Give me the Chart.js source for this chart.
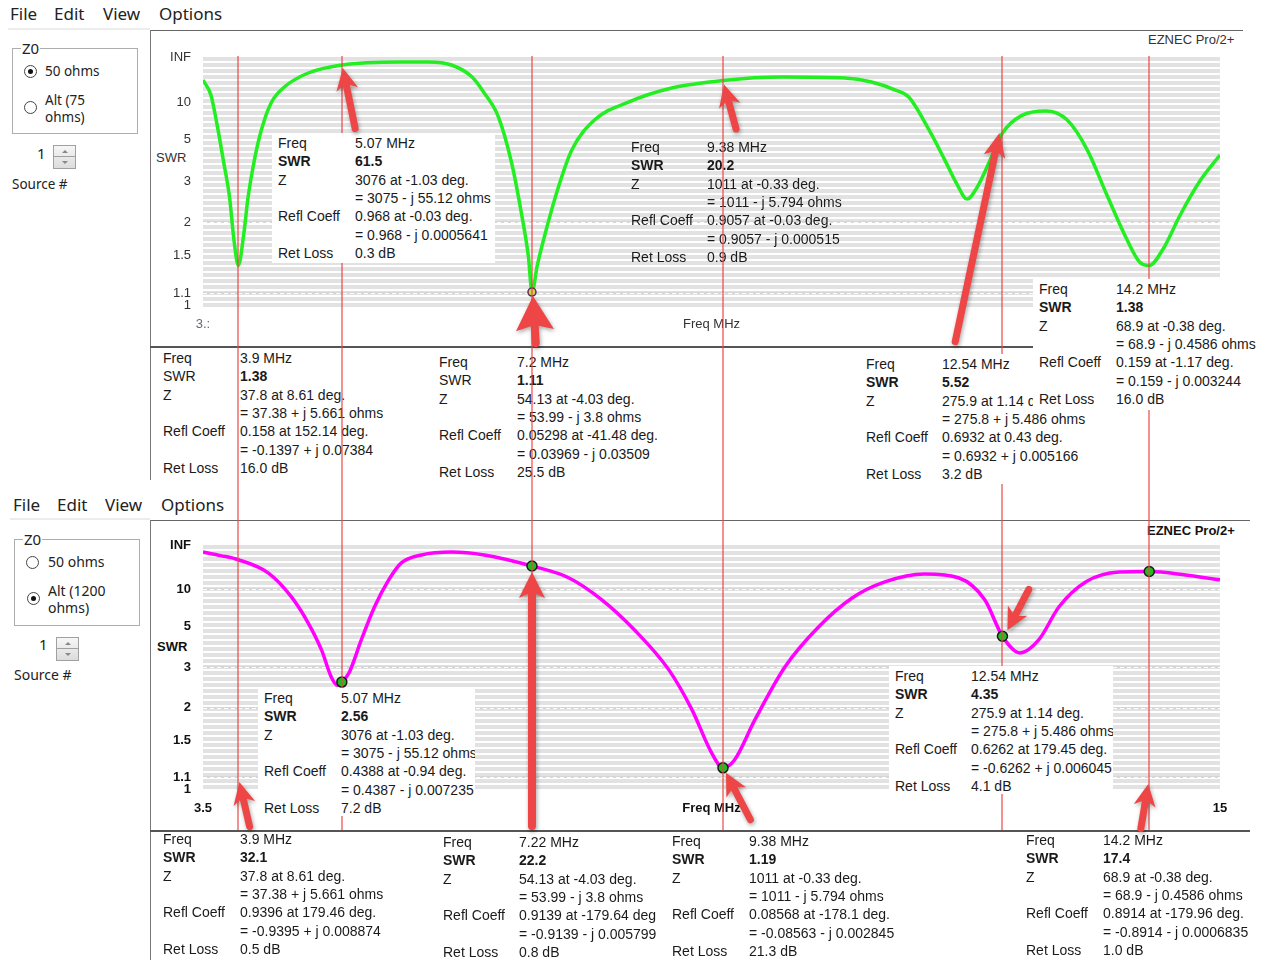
<!DOCTYPE html>
<html>
<head>
<meta charset="utf-8">
<title>EZNEC SWR sweep</title>
<script src="https://cdn.jsdelivr.net/npm/chart.js@4.4.1/dist/chart.umd.min.js"></script>
<style>
  body { margin:0; width:1263px; height:960px; position:relative; overflow:hidden; background:#fff;
         font-family:"Liberation Sans", Arial, sans-serif; color:#1a1a1a; }
  .a { position:absolute; white-space:nowrap; }
  .ui { font-family:"Noto Sans", sans-serif; color:#222; }
  .menu { font-size:17px; line-height:22px; }
  .grp { position:absolute; border:1px solid #adadad; }
  .grp .cap { position:absolute; left:8px; top:-11px; background:#fff; padding:0 1px; font-size:15px; line-height:20px; }
  .radio { position:absolute; width:11px; height:11px; border:1px solid #444; border-radius:50%; background:#fff; }
  .radio.on::after { content:""; position:absolute; left:3px; top:3px; width:5px; height:5px; border-radius:50%; background:#111; }
  .spin { position:absolute; width:21px; height:22px; border:1px solid #a0a0a0; background:linear-gradient(#f6f6f6,#dcdcdc); }
  .spin::after { content:""; position:absolute; left:0; right:0; top:10px; border-top:1px solid #a0a0a0; }
  .spin .up, .spin .dn { position:absolute; left:8px; width:0; height:0; border-left:3px solid transparent; border-right:3px solid transparent; }
  .spin .up { top:4px; border-bottom:3px solid #888; }
  .spin .dn { top:15px; border-top:3px solid #888; }
  .box { position:absolute; font-size:14px; line-height:18px; overflow:hidden; }
  .box.cover { background:#fff; }
  .box div { position:absolute; white-space:nowrap; }
  .b { font-weight:bold; }
  canvas.ov { position:absolute; left:0; top:0; pointer-events:none; }
</style>
</head>
<body>

<!-- top window chrome -->
<div class="a ui menu" style="left:10px;top:3px">File</div>
<div class="a ui menu" style="left:54px;top:3px">Edit</div>
<div class="a ui menu" style="left:103px;top:3px">View</div>
<div class="a ui menu" style="left:159px;top:3px">Options</div>
<div class="a" style="left:8px;top:28px;width:142px;height:2px;background:#ececec"></div>
<div class="a" style="left:150px;top:30px;width:1093px;height:1px;background:#666"></div>
<div class="a" style="left:150px;top:30px;width:1px;height:450px;background:#777"></div>
<div class="a" style="left:150px;top:346px;width:1093px;height:2px;background:#555"></div>

<div class="grp" style="left:12px;top:48px;width:124px;height:84px"><span class="cap ui">Z0</span></div>
<div class="radio on" style="left:24px;top:65px"></div>
<div class="a ui" style="left:45px;top:62px;font-size:13.5px;line-height:18px">50 ohms</div>
<div class="radio" style="left:24px;top:101px"></div>
<div class="a ui" style="left:45px;top:91px;font-size:13.5px;line-height:18px">Alt (75</div>
<div class="a ui" style="left:45px;top:108px;font-size:13.5px;line-height:18px">ohms)</div>
<div class="a ui" style="left:37px;top:143px;font-size:15px;line-height:20px">1</div>
<div class="spin" style="left:53px;top:145px"><span class="up"></span><span class="dn"></span></div>
<div class="a ui" style="left:12px;top:175px;font-size:13.5px;line-height:18px">Source #</div>
<div class="a" style="left:1148px;top:32px;font-size:13px;color:#333">EZNEC Pro/2+</div>
<div class="a" style="left:156px;top:150px;font-size:13px;color:#333">SWR</div>
<div class="a" style="left:151px;top:31px;z-index:1"><canvas id="topChart" width="1092" height="316"></canvas></div>

<!-- bottom window chrome -->
<div class="a ui menu" style="left:13px;top:494px">File</div>
<div class="a ui menu" style="left:57px;top:494px">Edit</div>
<div class="a ui menu" style="left:105px;top:494px">View</div>
<div class="a ui menu" style="left:161px;top:494px">Options</div>
<div class="a" style="left:10px;top:518px;width:140px;height:2px;background:#ececec"></div>
<div class="a" style="left:150px;top:520px;width:1100px;height:1px;background:#666"></div>
<div class="a" style="left:150px;top:520px;width:1px;height:440px;background:#777"></div>
<div class="a" style="left:150px;top:830px;width:1100px;height:2px;background:#555"></div>

<div class="grp" style="left:14px;top:539px;width:124px;height:85px"><span class="cap ui">Z0</span></div>
<div class="radio" style="left:26px;top:556px"></div>
<div class="a ui" style="left:48px;top:553px;font-size:14px;line-height:18px">50 ohms</div>
<div class="radio on" style="left:27px;top:592px"></div>
<div class="a ui" style="left:48px;top:582px;font-size:14px;line-height:18px">Alt (1200</div>
<div class="a ui" style="left:48px;top:599px;font-size:14px;line-height:18px">ohms)</div>
<div class="a ui" style="left:39px;top:634px;font-size:15px;line-height:20px">1</div>
<div class="spin" style="left:56px;top:637px"><span class="up"></span><span class="dn"></span></div>
<div class="a ui" style="left:14px;top:666px;font-size:14px;line-height:18px">Source #</div>
<div class="a b" style="left:1147px;top:523px;font-size:13px;color:#111">EZNEC Pro/2+</div>
<div class="a b" style="left:157px;top:639px;font-size:13px;color:#111">SWR</div>
<div class="a" style="left:151px;top:521px;z-index:1"><canvas id="botChart" width="1099" height="310"></canvas></div>

<canvas id="lineLayer" class="ov" width="1263" height="960" style="z-index:15"></canvas>
<canvas id="arrowLayer" class="ov" width="1263" height="960" style="z-index:30"></canvas>

<script>
// frequency sweep, MHz, and SWR
const topFreq = [3.5, 3.59, 3.67, 3.73, 3.8, 3.85, 3.9, 3.96, 4.01, 4.08, 4.16, 4.27, 4.42, 4.69, 5.07,
  5.74, 6.05, 6.31, 6.54, 6.68, 6.84, 6.99, 7.1, 7.18, 7.22, 7.28, 7.36, 7.52, 7.67, 7.93, 8.31, 8.8,
  9.38, 10.05, 10.76, 11.06, 11.33, 11.48, 11.71, 11.89, 12.03, 12.14, 12.25, 12.4, 12.54, 12.76,
  13.03, 13.27, 13.5, 13.72, 13.95, 14.09, 14.2, 14.35, 14.55, 14.78, 15.0];
const topSwr = [20.5, 12.0, 5.8, 3.8, 2.54, 1.71, 1.38, 1.79, 2.54, 3.8, 5.8, 9.8, 15.5, 30, 61.5,
  99, 99, 61, 24, 12.8, 7.3, 3.68, 2.18, 1.48, 1.11, 1.38, 1.76, 2.82, 4.33, 6.9, 10.0, 15.0,
  20.2, 23.8, 22.6, 18.8, 14.0, 11.4, 5.8, 3.8, 2.88, 2.49, 2.79, 3.8, 5.52, 7.5,
  8.2, 6.9, 4.33, 2.6, 1.71, 1.42, 1.38, 1.57, 2.14, 3.03, 4.06];
const topMarkFreq = [7.22];
const topMarkSwr = [1.11];

const botFreq = [3.5, 3.7, 3.9, 4.24, 4.5, 4.69, 4.84, 4.95, 5.02, 5.07, 5.15, 5.29, 5.44, 5.6, 5.74,
  5.97, 6.31, 6.68, 7.22, 7.64, 8.01, 8.38, 8.77, 9.03, 9.25, 9.38, 9.51, 9.74, 10.08, 10.46, 10.84,
  11.21, 11.66, 12.05, 12.34, 12.54, 12.74, 12.95, 13.18, 13.48, 13.86, 14.2, 14.61, 15.0];
const botSwr = [68, 45, 32.1, 16.4, 8.4, 5.25, 3.65, 2.7, 2.48, 2.56, 2.81, 4.14, 6.9, 13.0, 26,
  48, 68, 48, 22.2, 13.8, 7.9, 4.74, 2.9, 1.96, 1.35, 1.19, 1.27, 1.79, 3.0, 4.95, 8.2,
  12.2, 15.8, 13.8, 7.9, 4.35, 3.52, 4.14, 6.9, 12.2, 17.0, 17.4, 15.3, 13.0];
const botMarkFreq = [5.07, 7.22, 9.38, 12.54, 14.2];
const botMarkSwr = [2.56, 22.2, 1.19, 4.35, 17.4];

const cursorFreq = [3.9, 5.07, 7.22, 9.38, 12.54, 14.2];

const swrTickVals = [1, 1.1, 1.5, 2, 3, 5, 10, Infinity];
const swrTickText = ['1', '1.1', '1.5', '2', '3', '5', '10', 'INF'];

// readout boxes: [lx, vx, y0, width, height, covers cursor line, bold SWR label, rows]
const boxes = [
  [631, 707, 147, 219, 128, false, true, ['9.38 MHz', '20.2', '1011 at -0.33 deg.', '= 1011 - j 5.794 ohms', '0.9057 at -0.03 deg.', '= 0.9057 - j 0.000515', '0.9 dB']],
  [163, 240, 358, 260, 128, false, false, ['3.9 MHz', '1.38', '37.8 at 8.61 deg.', '= 37.38 + j 5.661 ohms', '0.158 at 152.14 deg.', '= -0.1397 + j 0.07384', '16.0 dB']],
  [439, 517, 362, 260, 128, false, false, ['7.2 MHz', '1.11', '54.13 at -4.03 deg.', '= 53.99 - j 3.8 ohms', '0.05298 at -41.48 deg.', '= 0.03969 - j 0.03509', '25.5 dB']],
  [278, 355, 143, 223, 130, true, true, ['5.07 MHz', '61.5', '3076 at -1.03 deg.', '= 3075 - j 55.12 ohms', '0.968 at -0.03 deg.', '= 0.968 - j 0.0005641', '0.3 dB']],
  [866, 942, 364, 230, 130, true, true, ['12.54 MHz', '5.52', '275.9 at 1.14 deg.', '= 275.8 + j 5.486 ohms', '0.6932 at 0.43 deg.', '= 0.6932 + j 0.005166', '3.2 dB']],
  [1039, 1116, 289, 224, 131, true, true, ['14.2 MHz', '1.38', '68.9 at -0.38 deg.', '= 68.9 - j 0.4586 ohms', '0.159 at -1.17 deg.', '= 0.159 - j 0.003244', '16.0 dB']],
  [264, 341, 698, 217, 128, true, true, ['5.07 MHz', '2.56', '3076 at -1.03 deg.', '= 3075 - j 55.12 ohms', '0.4388 at -0.94 deg.', '= 0.4387 - j 0.007235', '7.2 dB']],
  [895, 971, 676, 224, 128, true, true, ['12.54 MHz', '4.35', '275.9 at 1.14 deg.', '= 275.8 + j 5.486 ohms', '0.6262 at 179.45 deg.', '= -0.6262 + j 0.006045', '4.1 dB']],
  [163, 240, 839, 270, 128, false, true, ['3.9 MHz', '32.1', '37.8 at 8.61 deg.', '= 37.38 + j 5.661 ohms', '0.9396 at 179.46 deg.', '= -0.9395 + j 0.008874', '0.5 dB']],
  [443, 519, 842, 225, 128, false, true, ['7.22 MHz', '22.2', '54.13 at -4.03 deg.', '= 53.99 - j 3.8 ohms', '0.9139 at -179.64 deg', '= -0.9139 - j 0.005799', '0.8 dB']],
  [672, 749, 841, 240, 128, false, true, ['9.38 MHz', '1.19', '1011 at -0.33 deg.', '= 1011 - j 5.794 ohms', '0.08568 at -178.1 deg.', '= -0.08563 - j 0.002845', '21.3 dB']],
  [1026, 1103, 840, 237, 128, false, true, ['14.2 MHz', '17.4', '68.9 at -0.38 deg.', '= 68.9 - j 0.4586 ohms', '0.8914 at -179.96 deg.', '= -0.8914 - j 0.0006835', '1.0 dB']]
];
const rowLabels = ['Freq', 'SWR', 'Z', '', 'Refl Coeff', '', 'Ret Loss'];

const FONT = '"Liberation Sans", Arial, sans-serif';

function rho(s) {
  return s === Infinity ? 1 : (s - 1) / (s + 1);
}

// grey banded background of the EZNEC plot
const stripes = {
  id: 'stripes',
  beforeDatasetsDraw(chart, args, opts) {
    const { ctx, chartArea: { left, top, right, bottom } } = chart;
    ctx.save();
    ctx.fillStyle = '#e2e2e2';
    for (let y = top; y < bottom + 2; y += 6) ctx.fillRect(left, y, right - left, 4);
    (opts.dashed || []).forEach(s => {
      const y = Math.round(chart.scales.y.getPixelForValue(rho(s)));
      ctx.fillStyle = '#d6d6d6';
      ctx.fillRect(left, y - 1, right - left, 2);
      ctx.strokeStyle = '#fff';
      ctx.lineWidth = 1;
      ctx.setLineDash([4, 3]);
      ctx.beginPath();
      ctx.moveTo(left, y + 0.5);
      ctx.lineTo(right, y + 0.5);
      ctx.stroke();
    });
    ctx.restore();
  }
};

function buildChart(id, c) {
  const font = { family: FONT, size: 13, weight: c.weight };
  return new Chart(document.getElementById(id), {
    type: 'line',
    data: {
      datasets: [
        {
          data: c.freq.map((f, i) => ({ x: f, y: rho(c.swr[i]) })),
          borderColor: c.color, borderWidth: 3.5, pointRadius: 0,
          cubicInterpolationMode: 'monotone', order: 2
        },
        {
          data: c.markFreq.map((f, i) => ({ x: f, y: rho(c.markSwr[i]) })),
          showLine: false, pointRadius: c.markR, pointBackgroundColor: c.markFill,
          pointBorderColor: c.markBorder, pointBorderWidth: 1.5, order: 1
        }
      ]
    },
    options: {
      responsive: false,
      animation: false,
      events: [],
      layout: { padding: { top: c.padTop, right: c.padRight, left: 0, bottom: 0 } },
      plugins: { legend: { display: false }, tooltip: { enabled: false }, stripes: { dashed: c.dashed } },
      scales: {
        x: {
          type: 'linear', min: 3.5, max: 15,
          grid: { display: false, drawTicks: false }, border: { display: false },
          afterBuildTicks: s => { s.ticks = c.xTicks.map(v => ({ value: v })); },
          afterFit: s => { s.height = 42; },
          ticks: {
            autoSkip: false, maxRotation: 0, padding: 12, color: c.xTickColor, font: font,
            callback: v => c.xText[c.xTicks.indexOf(v)]
          },
          title: { display: true, text: 'Freq MHz', color: c.tickColor, font: font, padding: { top: 0, bottom: 15 } }
        },
        y: {
          min: 0, max: 1,
          grid: { display: false, drawTicks: false }, border: { display: false },
          afterBuildTicks: s => { s.ticks = swrTickVals.map(v => ({ value: rho(v) })); },
          afterFit: s => { s.width = 52; },
          ticks: { autoSkip: false, padding: 12, color: c.tickColor, font: font, callback: (v, i) => swrTickText[i] }
        }
      }
    },
    plugins: [stripes]
  });
}

const topChart = buildChart('topChart', {
  freq: topFreq, swr: topSwr, markFreq: topMarkFreq, markSwr: topMarkSwr,
  color: '#22ee22', markR: 4, markFill: '#c8d84a', markBorder: '#5a2a5a',
  padTop: 26, padRight: 23, weight: 'normal', tickColor: '#333', xTickColor: '#667',
  xTicks: [3.5], xText: ['3.:'], dashed: [2, 1.1]
});
const botChart = buildChart('botChart', {
  freq: botFreq, swr: botSwr, markFreq: botMarkFreq, markSwr: botMarkSwr,
  color: '#ff00ff', markR: 5, markFill: '#22bb22', markBorder: '#1a1a1a',
  padTop: 24, padRight: 30, weight: 'bold', tickColor: '#111', xTickColor: '#111',
  xTicks: [3.5, 15], xText: ['3.5', '15'], dashed: [10, 3, 2, 1.1]
});

const topOff = { x: 151, y: 31 };
const botOff = { x: 151, y: 521 };
const X = (ch, off, f) => off.x + ch.scales.x.getPixelForValue(f);
const Y = (ch, off, s) => off.y + ch.scales.y.getPixelForValue(rho(s));

// readout boxes
boxes.forEach(([lx, vx, y0, w, h, cover, boldLabel, vals]) => {
  const d = document.createElement('div');
  d.className = 'box' + (cover ? ' cover' : '');
  d.style.left = (lx - 6) + 'px';
  d.style.top = (y0 - 10) + 'px';
  d.style.width = w + 'px';
  d.style.height = h + 'px';
  d.style.zIndex = cover ? 20 : 10;
  rowLabels.forEach((lab, i) => {
    const top = (1 + i * 18.3) + 'px';
    if (lab) {
      const l = document.createElement('div');
      l.textContent = lab;
      l.style.left = '6px';
      l.style.top = top;
      if (i === 1 && boldLabel) l.className = 'b';
      d.appendChild(l);
    }
    const v = document.createElement('div');
    v.textContent = vals[i];
    v.style.left = (vx - lx + 6) + 'px';
    v.style.top = top;
    if (i === 1) v.className = 'b';
    d.appendChild(v);
  });
  document.body.appendChild(d);
});

// cursor lines through both windows
const lctx = document.getElementById('lineLayer').getContext('2d');
lctx.strokeStyle = 'rgba(236,70,70,0.8)';
lctx.lineWidth = 1.5;
cursorFreq.forEach(f => {
  const x = Math.round(X(topChart, topOff, f));
  lctx.beginPath();
  lctx.moveTo(x, topOff.y + topChart.chartArea.top - 1);
  lctx.lineTo(x, 830);
  lctx.stroke();
});

// red call-out arrows
function arrow(ctx, tip, tail, w, hl, hw) {
  const a = Math.atan2(tip[1] - tail[1], tip[0] - tail[0]);
  const len = Math.hypot(tip[0] - tail[0], tip[1] - tail[1]);
  ctx.save();
  ctx.translate(tip[0], tip[1]);
  ctx.rotate(a);
  ctx.beginPath();
  ctx.moveTo(0, 0);
  ctx.lineTo(-hl, -hw / 2);
  ctx.lineTo(-hl + 4, -w / 2);
  ctx.lineTo(-len + w / 2, -w / 2);
  ctx.arc(-len + w / 2, 0, w / 2, -Math.PI / 2, Math.PI / 2, true);
  ctx.lineTo(-hl + 4, w / 2);
  ctx.lineTo(-hl, hw / 2);
  ctx.closePath();
  ctx.fill();
  ctx.restore();
}
const actx = document.getElementById('arrowLayer').getContext('2d');
actx.fillStyle = '#ee4646';
actx.shadowColor = 'rgba(0,0,0,0.35)';
actx.shadowBlur = 4;
actx.shadowOffsetX = 1;
actx.shadowOffsetY = 2;
const botBottom = botOff.y + botChart.chartArea.bottom;
const arrows = [
  [[X(topChart, topOff, 5.07) + 1, Y(topChart, topOff, 61.5) + 3], [13, 64], 7, 22, 22],
  [[X(topChart, topOff, 7.22) + 1, Y(topChart, topOff, 1.11) + 4], [3, 51], 8, 34, 38],
  [[X(topChart, topOff, 9.38) + 1, Y(topChart, topOff, 20.2) + 4], [13, 48], 7, 22, 22],
  [[X(topChart, topOff, 12.54) - 3, Y(topChart, topOff, 5.52)], [-45, 212], 7, 24, 22],
  [[X(botChart, botOff, 3.9) + 1, botBottom - 7], [11, 48], 7, 22, 22],
  [[X(botChart, botOff, 7.22), Y(botChart, botOff, 22.2) + 6], [0, 258], 8, 26, 26],
  [[X(botChart, botOff, 9.38) + 3, Y(botChart, botOff, 1.19) + 5], [26, 50], 7, 22, 22],
  [[X(botChart, botOff, 12.54) + 5, Y(botChart, botOff, 4.35) - 6], [23, -44], 7, 22, 22],
  [[X(botChart, botOff, 14.2) - 1, botBottom - 5], [-8, 48], 7, 22, 22]
];
arrows.forEach(([tip, d, w, hl, hw]) => arrow(actx, tip, [tip[0] + d[0], tip[1] + d[1]], w, hl, hw));
</script>
</body>
</html>
